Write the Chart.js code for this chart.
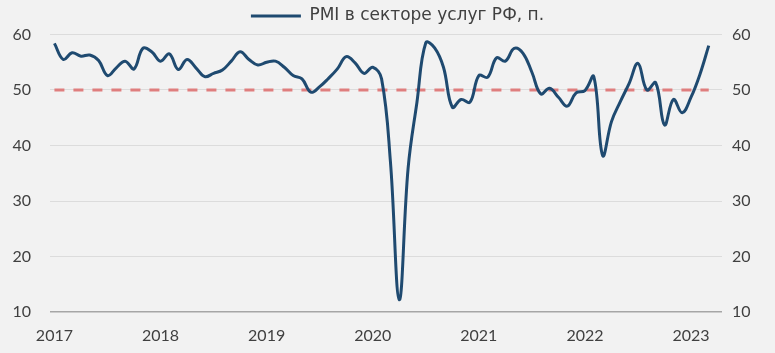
<!DOCTYPE html>
<html>
<head>
<meta charset="utf-8">
<script src="https://cdn.jsdelivr.net/npm/chart.js@4"></script>
<style>
    body { margin: 0; background: #f2f2f2; }
    #wrap { width: 775px; height: 353px; }
</style>
</head>
<body>
<div id="wrap"><canvas id="pmiChart" width="775" height="353"></canvas></div>
<script>
// Years shown on the axis; months are built from them (Jan 2017 .. Apr 2023)
const years = [2017, 2018, 2019, 2020, 2021, 2022, 2023];
const monthsInLastYear = 4;

// PMI services, Russia, monthly from Jan 2017 to Mar 2023
const pmi2017 = [58.4, 55.5, 56.7, 56.1, 56.3, 55.3, 52.6, 54.0, 55.2, 53.8, 57.5, 56.9];
const pmi2018 = [55.2, 56.5, 53.7, 55.5, 54.0, 52.4, 53.0, 53.6, 55.2, 56.9, 55.5, 54.5];
const pmi2019 = [55.0, 55.2, 54.1, 52.6, 52.0, 49.6, 50.6, 52.1, 53.8, 56.0, 54.9, 53.0];
const pmi2020 = [54.1, 52.0, 37.1, 12.2, 35.9, 47.8, 58.5, 57.6, 54.1, 46.9, 48.3, 47.8];
const pmi2021 = [52.6, 52.3, 55.8, 55.2, 57.5, 56.6, 53.2, 49.3, 50.3, 48.7, 47.1, 49.5];
const pmi2022 = [49.9, 52.4, 38.2, 44.3, 47.9, 51.2, 54.8, 50.0, 51.3, 43.7, 48.3, 45.9];
const pmi2023 = [48.7, 52.8, 58.0];

const threshold = 50;
const yTicks = [10, 20, 30, 40, 50, 60];
const legendLabel = 'PMI в секторе услуг РФ, п.';

const pmi = [].concat(pmi2017, pmi2018, pmi2019, pmi2020, pmi2021, pmi2022, pmi2023);

const labels = [];
years.forEach(function (yr, k) {
    const n = (k === years.length - 1) ? monthsInLastYear : 12;
    for (let m = 1; m <= n; m++) labels.push(yr + '-' + String(m).padStart(2, '0'));
});
const thresholdLine = pmi.map(() => threshold);

Chart.defaults.font.family = 'Lato';
Chart.defaults.font.size = 16;
Chart.defaults.color = '#404040';

// nudge the legend a little to the right, like in the source picture
const legendShift = {
    id: 'legendShift',
    afterLayout(chart) {
        chart.legend.left += 10;
        chart.legend.right += 10;
    }
};

new Chart(document.getElementById('pmiChart'), {
    type: 'line',
    data: {
        labels: labels,
        datasets: [{
            label: legendLabel,
            data: pmi,
            borderColor: '#1f4a70',
            backgroundColor: '#1f4a70',
            borderWidth: 3,
            pointRadius: 0,
            tension: 0.4,
            yAxisID: 'y'
        }, {
            label: 'threshold',
            data: thresholdLine,
            borderColor: '#df7e7e',
            borderWidth: 2.8,
            borderDash: [10, 9],
            pointRadius: 0,
            yAxisID: 'y'
        }]
    },
    options: {
        responsive: false,
        animation: false,
        devicePixelRatio: 1,
        layout: { padding: 0 },
        plugins: {
            legend: {
                position: 'top',
                labels: {
                    filter: item => item.datasetIndex === 0,
                    usePointStyle: true,
                    pointStyle: 'line',
                    pointStyleWidth: 50,
                    padding: 7.5,
                    color: '#404040',
                    font: { family: 'DejaVu Sans', size: 17 }
                }
            },
            tooltip: { enabled: false }
        },
        scales: {
            x: {
                offset: true,
                grid: { display: false, drawTicks: false },
                border: { display: false },
                ticks: {
                    autoSkip: false,
                    maxRotation: 0,
                    padding: 14,
                    callback: function (val, i) {
                        const lab = labels[i];
                        return lab.endsWith('-01') ? lab.slice(0, 4) : null;
                    }
                },
                afterFit: s => { s.height = 41; }
            },
            y: {
                position: 'left',
                min: yTicks[0],
                max: yTicks[yTicks.length - 1],
                afterBuildTicks: s => { s.ticks = yTicks.map(v => ({ value: v })); },
                grid: {
                    drawTicks: false,
                    color: c => c.tick && c.tick.value === 10 ? '#a6a6a6' : '#dcdcdc',
                    lineWidth: c => c.tick && c.tick.value === 10 ? 1.5 : 1
                },
                border: { display: false },
                ticks: { padding: 19 },
                afterFit: s => { s.width = 50; }
            },
            y2: {
                position: 'right',
                min: yTicks[0],
                max: yTicks[yTicks.length - 1],
                afterBuildTicks: s => { s.ticks = yTicks.map(v => ({ value: v })); },
                grid: { display: false, drawTicks: false },
                border: { display: false },
                ticks: { padding: 10 },
                afterFit: s => { s.width = 53; }
            }
        }
    },
    plugins: [legendShift]
});
</script>
</body>
</html>
